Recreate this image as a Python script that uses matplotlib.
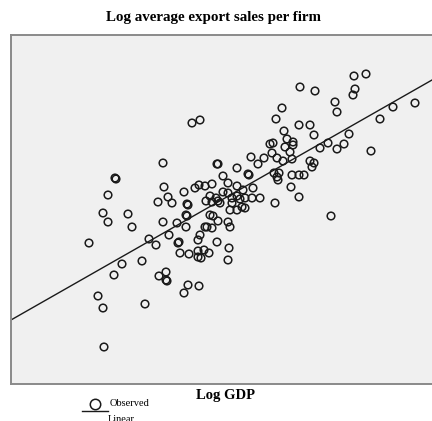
import numpy as np
import matplotlib
matplotlib.use("Agg")
import matplotlib.pyplot as plt
from matplotlib.lines import Line2D

# Log GDP (x) vs log average export sales per firm (y)
log_gdp = [
    25.08, 25.32, 24.00, 24.30, 25.10, 25.06, 24.70, 24.74, 23.64, 23.52,
    25.86, 26.30, 25.60, 23.98, 24.20, 23.68, 24.28, 23.74, 23.86, 23.86,
    24.98, 23.40, 23.46, 23.70, 24.56, 24.40, 24.88, 24.74, 25.42, 23.44,
    23.80, 23.02, 23.28, 23.54, 23.66, 23.84, 23.16, 22.36, 22.74, 24.20,
    24.28, 24.24, 22.96, 22.98, 22.46, 23.48, 23.58, 23.54, 23.56, 23.84,
    23.98, 24.08, 24.62,
    21.84, 22.00, 21.26, 22.34, 20.30, 20.32, 20.16, 21.28, 21.36, 21.68,
    21.90, 21.98, 22.10, 22.24, 21.16, 21.44, 21.74, 21.76, 22.12, 22.20,
    22.32, 22.36,
    22.56, 22.74, 22.86, 23.06, 22.46, 22.56, 22.64, 22.74, 22.80, 22.90,
    23.04, 23.20, 22.64, 22.84, 22.60, 22.74, 22.90, 23.82, 23.98, 23.50,
    22.40, 22.24,
    20.06, 20.56, 20.16, 20.64, 21.72, 21.74, 21.26, 21.54, 21.72, 22.20,
    22.26, 22.36, 22.10, 22.14, 22.24, 22.56, 22.60, 19.78, 20.98, 21.12,
    21.38, 21.56, 21.58, 22.00, 21.96, 22.34, 21.60, 21.78, 21.96, 22.08,
    22.18, 21.96, 22.02, 22.58, 22.56, 20.44, 20.84, 20.28, 21.18, 21.32,
    21.32, 21.34, 21.76, 21.98, 21.68, 19.96, 20.06, 20.90, 20.08,
]
log_export = [
    18.48, 18.52, 18.26, 18.18, 18.22, 18.10, 17.96, 17.76, 17.84, 17.62,
    17.86, 17.94, 17.62, 17.50, 17.50, 17.38, 17.30, 17.22, 17.16, 17.10,
    17.32, 17.12, 17.14, 17.06, 17.14, 17.04, 17.12, 17.02, 16.98, 16.94,
    16.96, 16.86, 16.84, 16.84, 16.78, 16.82, 16.72, 16.72, 16.64, 16.78,
    16.74, 16.66, 16.52, 16.50, 16.48, 16.54, 16.54, 16.46, 16.40, 16.50,
    16.50, 16.50, 15.68,
    17.54, 17.60, 16.74, 16.72, 16.44, 16.42, 16.10, 16.26, 16.06, 16.16,
    16.24, 16.30, 16.28, 16.32, 15.96, 15.94, 15.92, 15.90, 15.98, 16.08,
    16.04, 15.98,
    16.34, 16.28, 16.20, 16.24, 16.16, 16.14, 16.04, 16.08, 16.02, 16.04,
    16.04, 16.04, 15.94, 15.86, 15.80, 15.80, 15.84, 16.26, 16.06, 15.94,
    15.94, 15.96,
    15.74, 15.72, 15.56, 15.46, 15.70, 15.68, 15.56, 15.54, 15.46, 15.70,
    15.68, 15.58, 15.46, 15.46, 15.44, 15.56, 15.46, 15.14, 15.22, 15.10,
    15.30, 15.14, 15.16, 15.30, 15.20, 15.16, 14.94, 14.92, 14.98, 15.00,
    14.94, 14.86, 14.84, 15.04, 14.80, 14.72, 14.78, 14.50, 14.48, 14.56,
    14.40, 14.38, 14.30, 14.28, 14.14, 14.08, 13.84, 13.92, 13.06,
]

# linear fit
fit_intercept = 3.215
fit_slope = 0.570

fig = plt.figure(figsize=(4.32, 4.21), dpi=100)
ax = fig.add_axes([11 / 432, 1 - 384 / 421, 430 / 432, 349 / 421])
ax.set_facecolor('#f0f0f0')

ax.scatter(log_gdp, log_export, s=30, facecolors='none', edgecolors='#1a1a1a',
           linewidths=1.1, zorder=3)

xlim = (18.22, 18.22 + 430 * 0.02)
xs = np.array(xlim)
ax.plot(xs, fit_intercept + fit_slope * xs, color='#1a1a1a', linewidth=1.0, zorder=2)

ax.set_xlim(*xlim)
ax.set_ylim(12.32, 19.30)
ax.set_xticks([])
ax.set_yticks([])
for side in ['left', 'top', 'bottom', 'right']:
    ax.spines[side].set_color('#8a8a8a')
    ax.spines[side].set_linewidth(1.4)

fig.text(214 / 432, 1 - 18 / 421, 'Log average export sales per firm', ha='center', va='center',
         family='Liberation Serif', fontweight='bold', fontsize=10.8)
fig.text(226 / 432, 1 - 396 / 421, 'Log GDP', ha='center', va='center',
         family='Liberation Serif', fontweight='bold', fontsize=10.5)

# legend
fig.add_artist(Line2D([95 / 432], [1 - 404 / 421], marker='o', markersize=7.5,
                      markerfacecolor='none', markeredgecolor='#1a1a1a', markeredgewidth=1.1))
fig.text(110 / 432, 1 - 404 / 421, 'Observed', ha='left', va='center',
         family='Liberation Serif', fontsize=7.5)
fig.add_artist(Line2D([82 / 432, 108 / 432], [1 - 411 / 421, 1 - 411 / 421],
                      color='#1a1a1a', linewidth=1.0))
fig.text(108 / 432, 1 - 415 / 421, 'Linear', ha='left', va='top',
         family='Liberation Serif', fontsize=7.5)

fig.savefig('out.png', dpi=100)
